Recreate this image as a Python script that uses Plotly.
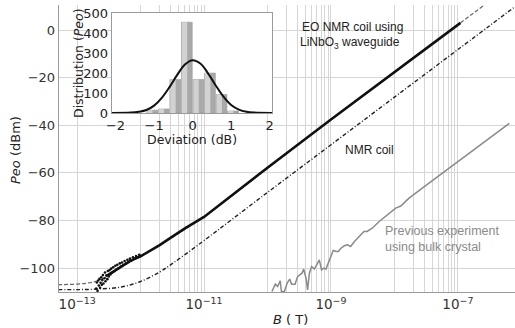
import plotly.graph_objects as go

# ---------------- data ----------------
# EO NMR coil using LiNbO3 waveguide: noisy low-field measured points
eo_scatter_B = [2.0e-13, 2.05e-13, 2.1e-13, 2.15e-13, 2.2e-13, 2.25e-13, 2.3e-13, 2.35e-13,
                2.4e-13, 2.45e-13, 2.5e-13, 2.55e-13, 2.6e-13, 2.7e-13, 2.75e-13, 2.8e-13,
                2.9e-13, 3.0e-13, 3.05e-13, 3.15e-13, 3.25e-13, 3.35e-13, 3.45e-13, 3.55e-13,
                3.7e-13, 3.85e-13, 4.0e-13, 4.15e-13, 4.3e-13, 4.5e-13, 4.7e-13, 4.9e-13,
                5.1e-13, 5.35e-13, 5.6e-13, 5.9e-13, 6.2e-13, 6.5e-13, 6.8e-13, 7.2e-13,
                7.6e-13, 8.0e-13, 8.5e-13, 9.0e-13, 9.5e-13, 1.0e-12]
eo_scatter_P = [-108.5, -106.0, -109.5, -105.2, -107.3, -104.5, -108.2, -106.1,
                -103.8, -107.0, -105.0, -102.9, -106.4, -104.2, -101.8, -105.5,
                -103.0, -104.6, -101.2, -103.5, -100.8, -102.6, -100.2, -101.9,
                -99.6, -101.3, -99.0, -100.6, -98.6, -100.0, -98.0, -99.3,
                -97.6, -98.7, -97.0, -98.0, -96.5, -97.4, -96.0, -96.8,
                -95.4, -96.0, -94.9, -95.4, -94.4, -94.8]
# EO measured curve (dense part)
eo_line_B = [3e-13, 4e-13, 5e-13, 7e-13, 1e-12, 1.5e-12, 2e-12, 3e-12, 5e-12, 1e-11, 2e-11,
             5e-11, 1e-10, 1e-9, 1e-8, 1e-7, 1.1e-7]
eo_line_P = [-103.0, -100.8, -99.0, -96.8, -95.0, -92.4, -90.3, -87.2, -83.3, -78.5, -72.3,
             -64.0, -57.8, -37.6, -17.7, 2.2, 3.0]
# fit of EO curve (dashed)
fit_B = [5e-14, 1e-13, 1.5e-13, 2e-13, 3e-13, 5e-13, 1e-12, 2e-12, 1e-11, 1e-9, 1e-7, 1e-6]
fit_P = [-106.9, -106.7, -106.2, -105.5, -103.3, -99.3, -94.9, -90.3, -78.3, -37.5, 2.2, 22.0]
# NMR coil (dash-dot)
nmr_B = [5e-14, 1e-13, 2e-13, 5e-13, 1e-12, 2e-12, 3e-12, 5e-12, 1e-11, 1e-10, 1e-9, 1e-8, 1e-7, 1e-6]
nmr_P = [-109.0, -109.0, -108.8, -107.9, -105.6, -101.6, -98.5, -94.3, -88.4, -68.2, -48.2, -28.2, -8.2, 11.8]
# previous experiment using bulk crystal (gray)
prev_logB = [-9.93, -9.876, -9.84, -9.80, -9.78, -9.734, -9.69, -9.65, -9.62, -9.566, -9.525,
             -9.48, -9.456, -9.43, -9.393, -9.368, -9.34, -9.305, -9.263, -9.21, -9.184,
             -9.148, -9.116, -9.08, -9.042, -9.0, -8.964, -8.92, -8.885, -8.843, -8.79,
             -8.74, -8.69, -8.63, -8.53, -8.48, -8.43, -8.35, -8.24, -8.11, -7.98, -7.9,
             -7.77, -7.455, -7.14, -6.83, -6.19]
prev_P = [-109.8, -106.7, -107.7, -105.3, -109.8, -109.8, -106.3, -104.6, -106.7, -106.7, -103.5,
          -102.5, -102.1, -100.4, -104.2, -109.1, -102.1, -99.3, -100.4, -97.9, -96.5,
          -100.7, -100.0, -100.4, -97.9, -94.4, -92.6, -93.0, -93.0, -91.6, -90.6,
          -90.2, -90.9, -88.8, -86.0, -84.6, -84.6, -83.2, -80.4, -77.6, -74.8, -73.9,
          -70.6, -64.3, -58.0, -51.7, -39.2]
prev_B = [10 ** v for v in prev_logB]

# inset histogram
hist_centers = [-1.05, -0.75, -0.45, -0.15, 0.15, 0.45, 0.75, 1.05]
hist_counts = [14, 20, 168, 455, 168, 200, 93, 10]
gauss_x = [-2.1, -1.6, -1.4, -1.2, -1.0, -0.8, -0.6, -0.4, -0.2, 0.0, 0.2, 0.4, 0.6, 0.8, 1.0, 1.2, 1.4, 1.6, 2.06]
gauss_y = [0, 2, 6, 15, 37, 76, 130, 191, 243, 265, 248, 199, 138, 82, 40, 17, 6, 2, 0]

# axes ticks / grid
major_B = [1e-13, 1e-11, 1e-9, 1e-7]
major_labels = ["10<sup>−13</sup>", "10<sup>−11</sup>", "10<sup>−9</sup>", "10<sup>−7</sup>"]
minor_grid_B = [1e-12] + [k * 1e-12 for k in range(2, 10)] + [1e-10] + \
               [k * 1e-10 for k in range(2, 10)] + [1e-8] + [k * 1e-8 for k in range(2, 10)]
y_ticks = [-100, -80, -60, -40, -20, 0]
inset_xticks = [-2, -1, 0, 1, 2]
inset_yticks = [0, 100, 200, 300, 400, 500]

# ---------------- figure ----------------
W, H = 515, 328
FONT = "DejaVu Sans"
GRID = "#d6d6d6"
fig = go.Figure()

fig.add_trace(go.Scatter(x=fit_B, y=fit_P, mode="lines", line=dict(color="#666666", width=1.2, dash="4px,2px"),
                         line_shape="spline", hoverinfo="skip"))
fig.add_trace(go.Scatter(x=nmr_B, y=nmr_P, mode="lines", line=dict(color="#222222", width=1.4, dash="4px,2px,1px,2px"),
                         line_shape="spline", hoverinfo="skip"))
fig.add_trace(go.Scatter(x=prev_B, y=prev_P, mode="lines", line=dict(color="#8a8a8a", width=1.5), hoverinfo="skip"))
fig.add_trace(go.Scatter(x=eo_line_B, y=eo_line_P, mode="lines", line=dict(color="#111111", width=2.6),
                         hoverinfo="skip"))
fig.add_trace(go.Scatter(x=eo_scatter_B, y=eo_scatter_P, mode="markers",
                         marker=dict(color="#111111", size=2.6), hoverinfo="skip"))

# inset histogram: shaded bars (darker base plus lighter highlight strip)
fig.add_trace(go.Bar(x=hist_centers, y=hist_counts, width=0.28, xaxis="x2", yaxis="y2",
                     marker=dict(color="#a9a9a9", line=dict(color="#999999", width=0.6)), hoverinfo="skip"))
fig.add_trace(go.Bar(x=hist_centers, y=hist_counts, width=0.14, offset=-0.13, xaxis="x2", yaxis="y2",
                     marker=dict(color="#d2d2d2", line=dict(width=0)), hoverinfo="skip"))
fig.add_trace(go.Scatter(x=gauss_x, y=gauss_y, mode="lines", xaxis="x2", yaxis="y2", line_shape="spline",
                         line=dict(color="#111111", width=2), hoverinfo="skip"))

left, right, top, bottom = 58.7, 515, 5, 292
ix0, ix1, iy0, iy1 = 111.7, 272, 12.7, 113

fig.update_layout(
    width=W, height=H, margin=dict(l=0, r=0, t=0, b=0, autoexpand=False),
    paper_bgcolor="white", plot_bgcolor="white", showlegend=False, barmode="overlay",
    font=dict(family=FONT, size=13, color="#333333"),
    xaxis=dict(type="log", domain=[left / W, right / W], range=[-13.29, -6.10], automargin=False,
               tickmode="array", tickvals=major_B, ticktext=major_labels, tickangle=0,
               showgrid=True, gridcolor=GRID, gridwidth=1, zeroline=False,
               minor=dict(tickmode="array", tickvals=minor_grid_B, showgrid=True, gridcolor=GRID,
                          gridwidth=1, ticks=""),
               showline=True, linecolor="#9a9a9a", linewidth=1, ticks="",
               tickfont=dict(family=FONT, size=13.5, color="#333333")),
    yaxis=dict(domain=[(H - bottom) / H, (H - top) / H], range=[-110, 10.5], automargin=False,
               tickvals=y_ticks, ticktext=[str(v).replace("-", "−") for v in y_ticks],
               showgrid=True, gridcolor=GRID, gridwidth=1, zeroline=False,
               showline=True, linecolor="#9a9a9a", linewidth=1, ticks="",
               tickfont=dict(family=FONT, size=13, color="#333333")),
    xaxis2=dict(domain=[ix0 / W, ix1 / W], range=[-2.1, 2.06], anchor="y2", automargin=False,
                tickvals=inset_xticks, ticktext=[str(v).replace("-", "−") for v in inset_xticks], tickangle=0,
                showgrid=False, zeroline=False, showline=True, mirror=True, linecolor="#9a9a9a",
                ticks="", tickfont=dict(family=FONT, size=13, color="#222222")),
    yaxis2=dict(domain=[(H - iy1) / H, (H - iy0) / H], range=[0, 503], anchor="x2", automargin=False,
                tickvals=inset_yticks, showgrid=False, zeroline=False, showline=True, mirror=True,
                linecolor="#9a9a9a", ticks="", tickfont=dict(family=FONT, size=13, color="#222222")),
)

# white box behind the inset (covers main grid)
fig.add_shape(type="rect", xref="x domain", yref="y domain",
              x0=(70 - left) / (right - left), x1=(274 - left) / (right - left),
              y0=(bottom - 145) / (bottom - top), y1=(bottom - 8) / (bottom - top),
              fillcolor="white", line=dict(width=0), layer="below")

def ann(text, x, y, size=13, color="#222222", family=FONT, xanchor="center", angle=0):
    fig.add_annotation(text=text, x=x / W, y=1 - y / H, xref="paper", yref="paper", showarrow=False,
                       font=dict(size=size, color=color, family=family), xanchor=xanchor, yanchor="middle",
                       textangle=angle)

ann("<i>Peo</i> (dBm)", 15, 150, size=13, angle=-90)
ann("<i>B</i> ( T)", 290, 319, size=13)
ann("Deviation (dB)", 192, 140, size=12.5)
ann("Distribution (<i>Peo</i>)", 78, 63, size=12.5, angle=-90)
ann("EO NMR coil using", 300, 27, size=12, family="Liberation Sans", xanchor="left")
ann("LiNbO<sub>3</sub> waveguide", 298, 43, size=12, family="Liberation Sans", xanchor="left")
ann("NMR coil", 343, 150, size=12, family="Liberation Sans", xanchor="left")
ann("Previous experiment", 383, 231, size=12.5, color="#8a8a8a", family="Liberation Sans", xanchor="left")
ann("using bulk crystal", 383, 247, size=12.5, color="#8a8a8a", family="Liberation Sans", xanchor="left")

fig.write_html("out.html", config={"displayModeBar": False, "staticPlot": True},
               post_script="document.body.style.margin='0';document.body.style.overflow='hidden';")
